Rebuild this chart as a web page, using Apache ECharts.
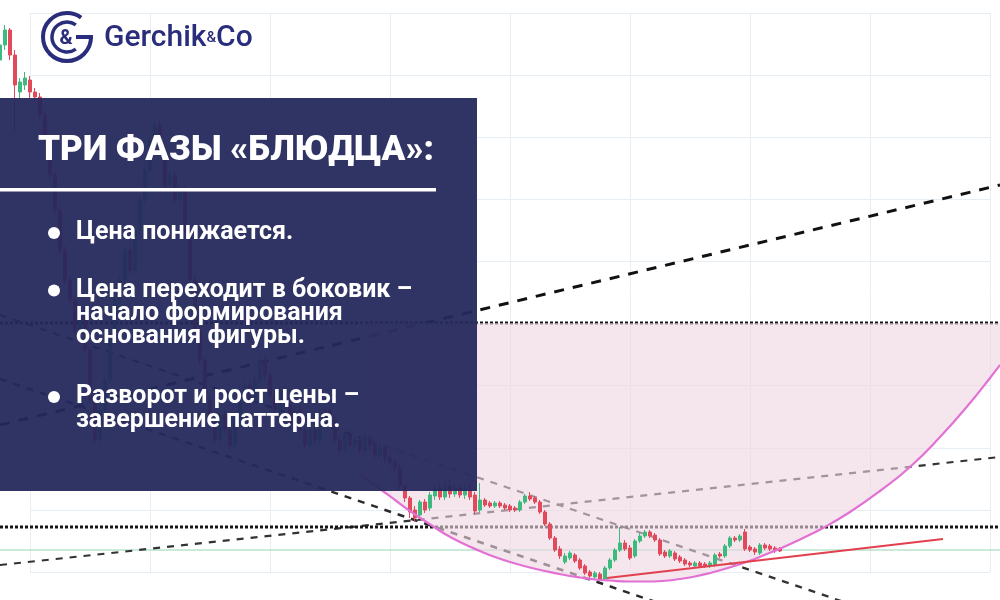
<!DOCTYPE html>
<html><head><meta charset="utf-8">
<script src="https://cdn.jsdelivr.net/npm/echarts/dist/echarts.min.js"></script>
<style>html,body{margin:0;padding:0;background:#fff}#c{width:1000px;height:600px}</style>
</head><body><div id="c"></div>
<script>
// ---- data (bar index, price) ----
// candles: [open, close, low, high], one per bar index
const candles = [
[94.0,95.5,93.5,96.0],[95.5,97.0,95.0,97.5],[97.0,94.5,94.0,97.2],[94.5,91.5,86.7,95.0],[90.8,91.8,90.0,92.2],
[91.5,92.2,91.0,92.8],[92.0,90.8,90.2,92.4],[90.8,90.3,89.8,91.2],[90.3,88.5,88.1,90.7],[88.5,86.0,85.6,88.9],
[86.0,82.5,82.1,86.4],[82.5,79.0,78.6,82.9],[79.0,75.0,74.6,79.4],[75.0,72.0,71.6,75.4],[72.0,70.0,69.6,72.4],
[70.0,67.0,66.6,70.4],[67.0,69.0,66.6,69.4],[69.0,65.0,64.6,69.4],[65.0,60.0,59.6,65.4],[60.0,56.0,55.6,60.4],
[56.0,59.0,55.6,59.4],[59.0,62.0,58.6,62.4],[62.0,66.0,61.6,66.4],[66.0,70.0,65.6,70.4],[70.0,72.0,69.6,72.4],
[72.0,75.0,71.6,75.4],[75.0,73.0,72.6,75.4],[73.0,77.0,72.6,77.4],[77.0,80.0,76.6,80.4],[80.0,83.0,79.6,83.4],
[83.0,86.0,82.6,86.4],[86.0,87.5,85.6,87.9],[87.5,85.0,84.6,87.9],[85.0,81.5,81.1,85.4],[81.5,82.5,81.1,82.9],
[82.5,80.0,79.6,82.9],[80.0,81.0,79.6,81.4],[81.0,77.0,76.6,81.4],[77.0,72.0,71.6,77.4],[72.0,67.0,66.6,72.4],
[67.0,64.0,63.6,67.4],[64.0,60.0,59.6,64.4],[60.0,58.0,57.6,60.4],[58.0,56.0,55.6,58.4],[56.0,58.5,55.6,58.9],
[58.5,57.0,56.6,58.9],[57.0,55.5,55.1,57.4],[55.5,58.0,55.1,58.4],[58.0,60.0,57.6,60.4],[60.0,61.5,59.6,61.9],
[61.5,60.0,59.6,61.9],[60.0,62.0,59.6,62.4],[62.0,64.0,61.6,64.4],[64.0,62.5,62.1,64.4],[62.5,60.5,60.1,62.9],
[60.5,59.0,58.6,60.9],[59.0,61.0,58.6,61.4],[61.0,59.5,59.1,61.4],[59.5,57.5,57.1,59.9],[57.5,59.0,57.1,59.4],
[59.0,57.0,56.6,59.4],[57.0,55.5,55.1,57.4],[55.5,57.0,55.1,57.4],[57.0,56.0,55.6,57.4],[56.0,57.5,55.6,57.9],
[57.5,59.0,57.1,59.4],[59.0,58.0,57.6,59.4],[58.0,56.0,55.6,58.4],[56.0,55.0,54.6,56.4],[55.0,56.5,54.6,56.9],
[56.5,55.5,55.1,56.9],[55.5,56.0,55.1,56.4],[56.0,55.0,54.6,56.4],[55.0,56.2,54.6,56.6],[56.2,55.5,55.1,56.6],
[55.5,54.5,54.1,55.9],[54.5,55.2,54.1,55.6],[55.2,54.2,53.8,55.6],[54.2,53.8,53.4,54.6],[53.8,53.2,52.8,54.2],
[53.2,51.4,51.0,53.6],[51.4,50.2,49.8,51.6],[50.2,48.8,48.2,50.4],[49.0,48.2,47.8,49.4],[48.5,49.8,48.2,50.0],
[49.8,49.0,48.7,50.1],[49.2,50.5,48.9,50.8],[50.4,51.2,50.0,51.5],[51.2,50.3,50.0,51.6],[50.3,51.4,50.0,51.8],
[51.4,50.6,50.2,52.0],[50.6,51.2,50.3,51.7],[51.2,50.5,50.2,51.5],[50.5,51.1,50.1,51.6],[51.0,50.3,50.0,51.4],
[50.5,48.9,48.6,50.8],[49.0,50.0,48.8,51.7],[50.0,49.5,49.3,50.2],[49.7,49.4,49.2,49.9],[49.4,49.7,49.2,49.9],
[49.7,49.4,49.2,49.9],[49.5,49.2,49.0,49.7],[49.4,49.0,48.8,49.6],[49.2,49.0,48.8,49.4],[49.0,49.8,48.8,50.0],
[49.8,50.4,49.6,50.6],[50.4,50.1,49.9,50.8],[50.2,49.8,49.6,50.4],[49.8,48.8,48.6,50.0],[48.8,47.6,47.4,49.0],
[47.6,46.2,46.0,47.8],[46.2,45.0,44.8,46.4],[45.1,44.4,44.1,45.4],[43.8,44.4,43.6,44.7],[44.2,44.7,44.0,44.9],
[44.5,43.9,43.7,44.7],[44.0,43.2,43.0,44.2],[43.4,42.7,42.5,43.6],[42.8,42.4,42.2,43.0],[42.3,42.7,42.1,42.9],
[42.6,42.1,41.9,42.8],[42.1,43.2,41.9,43.4],[43.2,44.0,43.0,44.2],[44.0,45.0,43.8,45.2],[45.0,45.7,44.8,47.3],
[45.7,45.1,44.9,46.0],[45.2,44.2,44.0,45.5],[44.4,45.9,44.2,46.1],[45.9,46.4,45.7,46.7],[46.4,46.8,46.2,47.0],
[46.8,46.4,46.2,47.0],[46.5,46.0,45.8,46.7],[46.0,44.6,44.4,46.2],[44.8,44.4,44.2,45.0],[44.4,44.9,44.2,45.1],
[44.7,44.1,43.9,44.9],[44.3,43.9,43.7,44.5],[44.0,43.6,43.4,44.2],[43.7,43.5,43.3,43.9],[43.4,43.7,43.2,43.9],
[43.7,43.4,43.2,43.9],[43.6,43.4,43.2,43.8],[43.4,43.7,43.2,43.9],[43.5,44.5,43.3,44.7],[44.6,44.4,44.2,44.8],
[44.4,45.4,44.2,45.6],[45.4,46.2,45.2,46.4],[46.2,46.0,45.8,46.4],[46.0,46.4,45.8,46.6],[46.8,45.1,44.9,47.1],
[45.3,45.0,44.8,45.5],[45.1,44.8,44.5,45.3],[44.7,45.5,44.5,45.7],[45.5,45.2,45.0,45.7],[45.4,45.1,44.9,45.6],
[45.2,44.9,44.7,45.4],[45.1,44.9,44.8,45.3]
];
// saucer curve (bar index, price)
const curveX = [72,76,79,82,85.6,89,92.4,96,99,102,105.6,109,112.4,116,119,122,125.6,129,132.4,136,139,142.4,145.6,149,152.4,156,160,164.6,170,176,182,188,194,198,200];
const curveP = [52.5,51.1,50.0,48.9,47.7,46.6,45.7,44.9,44.3,43.8,43.3,42.9,42.55,42.25,42.05,41.95,41.85,41.85,41.9,42.1,42.35,42.75,43.2,43.75,44.4,45.15,46.05,47.2,48.8,50.9,53.3,56.3,59.7,62.2,63.5];
// horizontal levels
const resistanceLevel = 67.7;
const neckLevel = 47.3;
const greenLevel = 45.0;
// trend lines: [[x1, p1], [x2, p2]]
const longTrend = [[0, 57.5], [200, 81.5]];
const supportTrend = [[0, 43.5], [200, 54.3]];
const channelUpper = [[0, 68.5], [200, 34.5]];
const channelLower = [[0, 62.1], [200, 28.1]];
const redTrend = [[121.4, 42.2], [188.6, 46.1]];
// panel texts
const titleText = 'ТРИ ФАЗЫ «БЛЮДЦА»:';
const bulletItems = [
  ['Цена понижается.'],
  ['Цена переходит в боковик –', 'начало формирования', 'основания фигуры.'],
  ['Разворот и рост цены –', 'завершение паттерна.']
];

// ---- chart ----
const chart = echarts.init(document.getElementById('c'), null, {renderer: 'canvas'});
const navy = '#2a2d7c';
const lineBase = {type: 'line', xAxisIndex: 1, yAxisIndex: 1, symbol: 'none', silent: true, animation: false};
const hidden = {show: false};
const bgAxis = (max) => ({gridIndex: 0, type: 'value', min: 0, max: max, interval: 1,
  axisLine: hidden, axisTick: hidden, axisLabel: hidden,
  splitLine: {show: true, lineStyle: {color: '#e7eef3', width: 1}}});

const bulletY = [233, 290.5, 397];
const lineGap = 23.3;
const graphicEls = [
  // logo
  {type: 'arc', z: 100, shape: {cx: 67, cy: 37, r: 24, startAngle: 0, endAngle: Math.PI * 1.7, clockwise: true}, style: {stroke: navy, lineWidth: 4, fill: null}},
  {type: 'arc', z: 100, shape: {cx: 67, cy: 37, r: 15, startAngle: Math.PI * 0.3, endAngle: Math.PI * 1.7, clockwise: true}, style: {stroke: navy, lineWidth: 3.5, fill: null}},
  {type: 'line', z: 100, shape: {x1: 76, y1: 37, x2: 93, y2: 37}, style: {stroke: navy, lineWidth: 4}},
  {type: 'text', z: 100, x: 66, y: 39, style: {text: '&', font: 'bold 20px Roboto', fill: navy, align: 'center', verticalAlign: 'middle', textAlign: 'center', textVerticalAlign: 'middle'}},
  {type: 'text', z: 100, x: 104, y: 38, style: {text: '{a|Gerchik}{b|&}{a|Co}', verticalAlign: 'middle', textVerticalAlign: 'middle',
    rich: {a: {fontSize: 30, fontWeight: 500, fontFamily: 'Roboto', fill: navy, color: navy},
           b: {fontSize: 15, fontWeight: 500, fontFamily: 'Roboto', fill: navy, color: navy}}}},
  // panel
  {type: 'rect', z: 100, shape: {x: 0, y: 98, width: 477, height: 393}, style: {fill: 'rgba(37,41,92,0.95)'}},
  {type: 'text', z: 101, x: 38, y: 151, style: {text: titleText, font: '900 35px Roboto', fill: '#ffffff', align: 'left', verticalAlign: 'middle', textAlign: 'left', textVerticalAlign: 'middle'}},
  {type: 'rect', z: 101, shape: {x: 0, y: 188, width: 436, height: 3.5}, style: {fill: '#ffffff'}}
];
bulletItems.forEach((lines, bi) => {
  graphicEls.push({type: 'circle', z: 101, shape: {cx: 54, cy: bulletY[bi], r: 6}, style: {fill: '#ffffff'}});
  lines.forEach((t, li) => {
    graphicEls.push({type: 'text', z: 101, x: 76, y: bulletY[bi] + li * lineGap,
      style: {text: t, font: 'bold 25px Roboto', fill: '#ffffff', align: 'left', verticalAlign: 'middle', textAlign: 'left', textVerticalAlign: 'middle'}});
  });
});

const option = {
  backgroundColor: '#ffffff',
  animation: false,
  grid: [
    {left: 30, right: 10, top: 13, bottom: 28, show: false},
    {left: 0, right: 0, top: 0, bottom: 0, show: false}
  ],
  xAxis: [bgAxis(8), {gridIndex: 1, type: 'value', min: 0, max: 200, show: false, splitLine: hidden}],
  yAxis: [bgAxis(9), {gridIndex: 1, type: 'value', min: 40, max: 100, show: false, splitLine: hidden}],
  series: [
    Object.assign({}, lineBase, {name: 'level-green', z: 2, data: [[0, greenLevel], [200, greenLevel]], lineStyle: {color: '#93d6b3', width: 1}}),
    Object.assign({}, lineBase, {name: 'long-trend', z: 2, data: longTrend, lineStyle: {color: '#111111', width: 3, type: [10, 9]}}),
    Object.assign({}, lineBase, {name: 'support', z: 2, data: supportTrend, lineStyle: {color: '#333333', width: 2.2, type: [7, 7]}}),
    Object.assign({}, lineBase, {name: 'channel-upper', z: 2, data: channelUpper, lineStyle: {color: '#333333', width: 2.2, type: [7, 7]}}),
    Object.assign({}, lineBase, {name: 'channel-lower', z: 2, data: channelLower, lineStyle: {color: '#2a2a2a', width: 2.5, type: [7, 7]}}),
    Object.assign({}, lineBase, {name: 'resistance', z: 2, data: [[0, resistanceLevel], [200, resistanceLevel]], lineStyle: {color: '#151515', width: 3.2, type: [3, 2]}}),
    Object.assign({}, lineBase, {name: 'neck', z: 2, data: [[0, neckLevel], [200, neckLevel]], lineStyle: {color: '#151515', width: 3.2, type: [3, 2]}}),
    {type: 'custom', name: 'saucer-fill', xAxisIndex: 1, yAxisIndex: 1, z: 3, silent: true,
      data: [[curveX[0], resistanceLevel]],
      renderItem: function (params, api) {
        const pts = curveX.map((x, i) => api.coord([x, curveP[i]]));
        pts.push(api.coord([curveX[curveX.length - 1], resistanceLevel]));
        pts.push(api.coord([curveX[0], resistanceLevel]));
        return {type: 'polygon', shape: {points: pts}, style: {fill: 'rgba(238,213,226,0.6)'}};
      }},
    {type: 'candlestick', xAxisIndex: 1, yAxisIndex: 1, z: 4, silent: true, barWidth: 3,
      data: candles.map((c, i) => [i, c[0], c[1], c[2], c[3]]),
      encode: {x: 0, y: [1, 2, 3, 4]},
      itemStyle: {color: '#3dbb7f', color0: '#e2495b', borderColor: '#3dbb7f', borderColor0: '#e2495b', borderWidth: 1}},
    Object.assign({}, lineBase, {name: 'saucer', z: 5, smooth: true,
      data: curveX.map((x, i) => [x, curveP[i]]), lineStyle: {color: '#e271d3', width: 2.2}}),
    Object.assign({}, lineBase, {name: 'red-trend', z: 5, data: redTrend, lineStyle: {color: '#e3404f', width: 2.2}})
  ],
  graphic: {elements: graphicEls}
};
chart.setOption(option);
</script></body></html>
